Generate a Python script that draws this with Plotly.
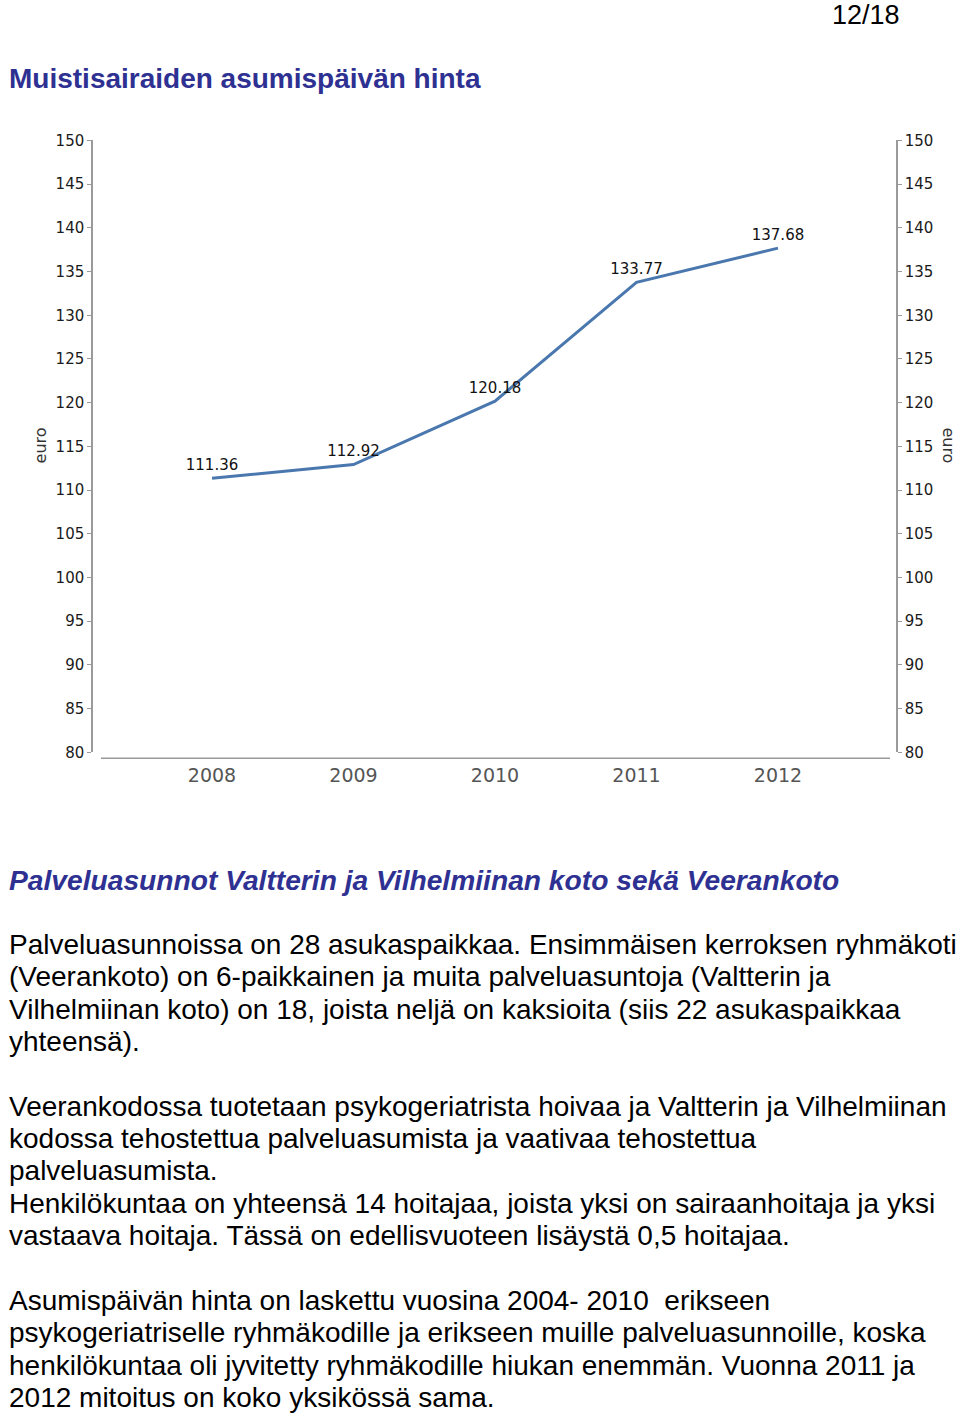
import plotly.graph_objects as go

# ---- data ----
years = ["2008", "2009", "2010", "2011", "2012"]
prices = [111.36, 112.92, 120.18, 133.77, 137.68]
price_labels = ["111.36", "112.92", "120.18", "133.77", "137.68"]
y_ticks = list(range(80, 151, 5))

page_number = "12/18"
heading = "Muistisairaiden asumispäivän hinta"
subheading = "Palveluasunnot Valtterin ja Vilhelmiinan koto sekä Veerankoto"
paragraphs = [
    ["Palveluasunnoissa on 28 asukaspaikkaa. Ensimmäisen kerroksen ryhmäkoti",
     "(Veerankoto) on 6-paikkainen ja muita palveluasuntoja (Valtterin ja",
     "Vilhelmiinan koto) on 18, joista neljä on kaksioita (siis 22 asukaspaikkaa",
     "yhteensä)."],
    ["Veerankodossa tuotetaan psykogeriatrista hoivaa ja Valtterin ja Vilhelmiinan",
     "kodossa tehostettua palveluasumista ja vaativaa tehostettua",
     "palveluasumista.",
     "Henkilökuntaa on yhteensä 14 hoitajaa, joista yksi on sairaanhoitaja ja yksi",
     "vastaava hoitaja. Tässä on edellisvuoteen lisäystä 0,5 hoitajaa."],
    ["Asumispäivän hinta on laskettu vuosina 2004- 2010  erikseen",
     "psykogeriatriselle ryhmäkodille ja erikseen muille palveluasunnoille, koska",
     "henkilökuntaa oli jyvitetty ryhmäkodille hiukan enemmän. Vuonna 2011 ja",
     "2012 mitoitus on koko yksikössä sama."],
]
para_line_y = [[944, 976, 1009, 1041],
               [1106, 1138, 1170, 1203, 1235],
               [1300, 1332, 1365, 1397]]

W, H = 960, 1414
SY, OY = 0.9875, 8.5   # vertical compensation of the page capture
def px(x):
    return x / W
def py(y):
    return 1 - ((y - OY) / SY) / H

NAVY = "#2E3192"
AXIS = "#9a9a9a"
TICKFONT = dict(family="DejaVu Sans", size=15, color="#1a1a1a")

fig = go.Figure()
fig.add_trace(go.Scatter(
    x=list(range(len(years))), y=prices,
    mode="lines+markers+text",
    line=dict(color="#4A78AE", width=3),
    marker=dict(size=6, color="rgba(0,0,0,0)"),
    text=price_labels, textposition="top center",
    textfont=dict(family="DejaVu Sans", size=15, color="#111"),
    cliponaxis=False, showlegend=False, hoverinfo="skip",
))
fig.add_trace(go.Scatter(x=[0], y=[prices[0]], yaxis="y2", mode="markers",
                         marker=dict(opacity=0), showlegend=False, hoverinfo="skip"))

fig.update_layout(
    width=W, height=H,
    margin=dict(l=0, r=0, t=0, b=0),
    paper_bgcolor="white", plot_bgcolor="white",
    xaxis=dict(domain=[px(93), px(896)], range=[-0.841, 4.834],
               tickvals=list(range(len(years))), ticktext=years,
               showgrid=False, zeroline=False, showline=False, ticks="",
               tickfont=dict(family="DejaVu Sans", size=19, color="#555"),
               ticklabelstandoff=10),
    yaxis=dict(domain=[py(752), py(140)], range=[80, 150],
               tickvals=y_ticks, showgrid=False, zeroline=False,
               showline=True, linecolor=AXIS, linewidth=1.5,
               ticks="outside", ticklen=4, tickcolor=AXIS,
               tickfont=TICKFONT, ticklabelstandoff=0),
    yaxis2=dict(domain=[py(752), py(140)], range=[80, 150], overlaying="y",
                side="right", anchor="x",
                tickvals=y_ticks, showgrid=False, zeroline=False,
                showline=True, linecolor=AXIS, linewidth=1.5,
                ticks="outside", ticklen=4, tickcolor=AXIS,
                tickfont=TICKFONT, ticklabelstandoff=0),
)

# baseline under the plot
fig.add_shape(type="line", xref="paper", yref="paper",
              x0=px(101), x1=px(890), y0=py(758), y1=py(758),
              line=dict(color=AXIS, width=1.5))

ann = []
ann.append(dict(text="euro", x=px(40), y=py(445), textangle=-90,
                font=dict(family="DejaVu Sans", size=16, color="#333")))
ann.append(dict(text="euro", x=px(949), y=py(445), textangle=90,
                font=dict(family="DejaVu Sans", size=16, color="#333")))
ann.append(dict(text=page_number, x=px(902), y=py(15), xanchor="right",
                font=dict(family="Liberation Sans", size=27, color="#000")))
ann.append(dict(text="<b>" + heading + "</b>", x=px(7), y=py(78), xanchor="left",
                font=dict(family="Liberation Sans", size=28, color=NAVY)))
ann.append(dict(text="<b><i>" + subheading + "</i></b>", x=px(7), y=py(880), xanchor="left",
                font=dict(family="Liberation Sans", size=28.2, color=NAVY)))
for lines, ys in zip(paragraphs, para_line_y):
    for t, yy in zip(lines, ys):
        ann.append(dict(text=t, x=px(7), y=py(yy), xanchor="left",
                        font=dict(family="Liberation Sans", size=28, color="#000")))
for a in ann:
    a.update(xref="paper", yref="paper", showarrow=False,
             yanchor="middle")
    a.setdefault("xanchor", "center")
fig.update_layout(annotations=ann)

fig.write_html("out.html")
